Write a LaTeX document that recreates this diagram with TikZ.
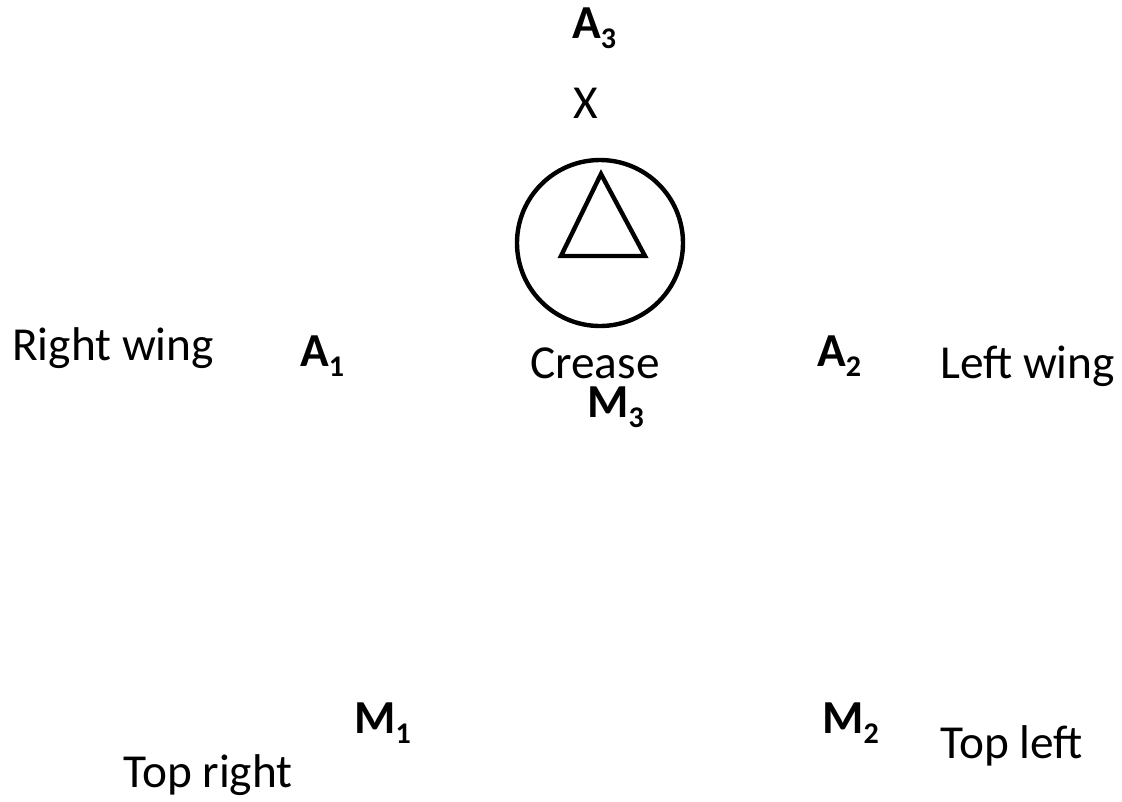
\documentclass[tikz,border=0pt]{standalone}
\usepackage{fontspec}
\setmainfont{Carlito}
\newcommand\lsub[1]{\raisebox{-8pt}{\fontsize{22.5}{26}\selectfont #1}}
\begin{document}
\begin{tikzpicture}[x=0.75pt,y=-0.75pt,
  lbl/.style={anchor=base west,inner sep=0pt,font=\fontsize{35.5}{42}\selectfont},
  blbl/.style={lbl,font=\fontsize{35.5}{42}\selectfont\bfseries},
  outl/.style={draw=black,line width=3.3pt}]
\useasboundingbox (0,0) rectangle (1122,801);
\node[blbl] (a3) at (572,38) {A\lsub{3}};
\node[lbl] (x) at (573,118) {X};
\node[outl,circle,minimum size=124.5pt,inner sep=0pt] (c) at (600,243) {};
\draw[outl,line join=miter] (601,174) -- (645,256) -- (561,256) -- cycle;
\node[lbl] (rw) at (12,360) {Right wing};
\node[blbl] (a1) at (300,366) {A\lsub{1}};
\node[lbl,text depth=0pt] (cr) at (530,378) {Crease};
\node[blbl] (m3) at (587,417) {M\lsub{3}};
\node[blbl] (a2) at (817,366) {A\lsub{2}};
\node[lbl] (lw) at (940,378) {Left wing};
\node[blbl] (m1) at (354,733) {M\lsub{1}};
\node[blbl] (m2) at (822,733) {M\lsub{2}};
\node[lbl] (tl) at (940,758) {Top left};
\node[lbl] (tr) at (123,787) {Top right};
\end{tikzpicture}
\end{document}
